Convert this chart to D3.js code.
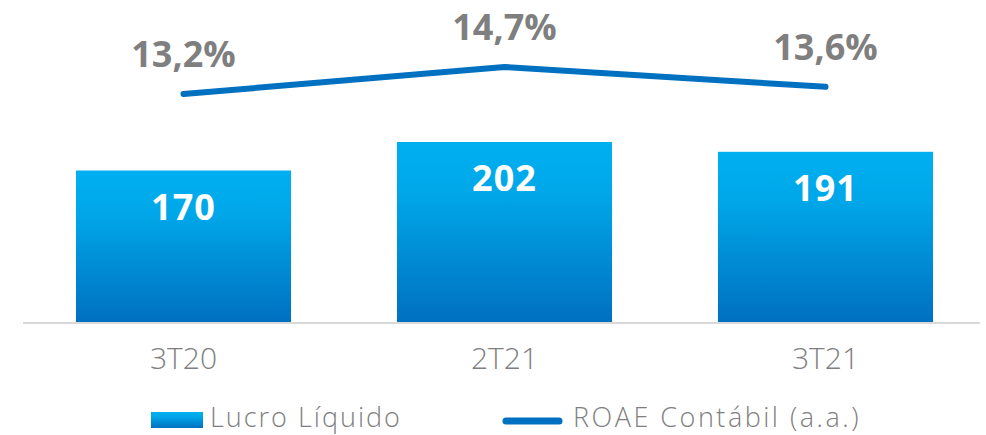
<!DOCTYPE html>
<html>
<head>
<meta charset="utf-8">
<script src="https://cdn.jsdelivr.net/npm/d3@7"></script>
<style>
  body { margin: 0; background: #fff; }
  text { font-family: "Open Sans", "DejaVu Sans", sans-serif; }
</style>
</head>
<body>
<svg id="chart"></svg>
<script>
// data
var periods = ["3T20", "2T21", "3T21"];
var lucro = [170, 202, 191];
var roae = [13.2, 14.7, 13.6];
var roaeLabels = ["13,2%", "14,7%", "13,6%"];

var width = 986, height = 435;
var svg = d3.select("#chart")
  .attr("width", width)
  .attr("height", height);

var defs = svg.append("defs");
var grad = defs.append("linearGradient")
  .attr("id", "barGrad")
  .attr("x1", 0).attr("y1", 0)
  .attr("x2", 0).attr("y2", 1);
grad.append("stop").attr("offset", "0%").attr("stop-color", "#00b0f0");
grad.append("stop").attr("offset", "30%").attr("stop-color", "#00a6e8");
grad.append("stop").attr("offset", "100%").attr("stop-color", "#0070c0");

var x = d3.scaleBand()
  .domain(periods)
  .range([23, 986])
  .paddingInner(0.33)
  .paddingOuter(0.165);

// bar scale
var y = d3.scaleLinear()
  .domain([0, 202])
  .range([322, 142]);

// line scale
var y2 = d3.scaleLinear()
  .domain([13.2, 14.7])
  .range([94, 67]);

// bars
svg.selectAll(".bar")
  .data(lucro)
  .enter().append("rect")
  .attr("class", "bar")
  .attr("x", function(d, i) { return x(periods[i]); })
  .attr("width", x.bandwidth())
  .attr("y", function(d) { return y(d); })
  .attr("height", function(d) { return y(0) - y(d); })
  .attr("fill", "url(#barGrad)");

// baseline
svg.append("line")
  .attr("x1", 23).attr("x2", 980)
  .attr("y1", y(0) + 1).attr("y2", y(0) + 1)
  .attr("stroke", "#d9d9d9")
  .attr("stroke-width", 2);

// bar labels
svg.selectAll(".barLabel")
  .data(lucro)
  .enter().append("text")
  .attr("class", "barLabel")
  .attr("x", function(d, i) { return x(periods[i]) + x.bandwidth() / 2; })
  .attr("y", function(d) { return y(d) + 49; })
  .attr("text-anchor", "middle")
  .attr("fill", "#fff")
  .attr("font-weight", "bold")
  .attr("font-size", "36px")
  .attr("letter-spacing", "1px")
  .text(function(d) { return d; });

// ROAE line
var line = d3.line()
  .x(function(d, i) { return x(periods[i]) + x.bandwidth() / 2; })
  .y(function(d) { return y2(d); });

svg.append("path")
  .datum(roae)
  .attr("d", line)
  .attr("fill", "none")
  .attr("stroke", "#0070c0")
  .attr("stroke-width", 6)
  .attr("stroke-linecap", "round")
  .attr("stroke-linejoin", "round");

svg.selectAll(".lineLabel")
  .data(roae)
  .enter().append("text")
  .attr("class", "lineLabel")
  .attr("x", function(d, i) { return x(periods[i]) + x.bandwidth() / 2; })
  .attr("y", function(d) { return y2(d) - 27; })
  .attr("text-anchor", "middle")
  .attr("fill", "#7f7f7f")
  .attr("font-weight", "bold")
  .attr("font-size", "36px")
  .text(function(d, i) { return roaeLabels[i]; });

// x axis labels
svg.selectAll(".xLabel")
  .data(periods)
  .enter().append("text")
  .attr("class", "xLabel")
  .attr("x", function(d) { return x(d) + x.bandwidth() / 2; })
  .attr("y", 369)
  .attr("text-anchor", "middle")
  .attr("fill", "#7f7f7f")
  .attr("font-weight", 300)
  .attr("font-size", "30px")
  .text(function(d) { return d; });

// legend
var legend = svg.append("g");
legend.append("rect")
  .attr("x", 151).attr("y", 412)
  .attr("width", 52).attr("height", 16)
  .attr("fill", "url(#barGrad)");
legend.append("text")
  .attr("x", 210).attr("y", 427)
  .attr("fill", "#7f7f7f")
  .attr("font-size", "27px")
  .attr("font-weight", 300)
  .attr("letter-spacing", "2px")
  .text("Lucro Líquido");
legend.append("line")
  .attr("x1", 506).attr("x2", 559)
  .attr("y1", 421).attr("y2", 421)
  .attr("stroke", "#0070c0")
  .attr("stroke-width", 7)
  .attr("stroke-linecap", "round");
legend.append("text")
  .attr("x", 573).attr("y", 427)
  .attr("fill", "#7f7f7f")
  .attr("font-size", "27px")
  .attr("font-weight", 300)
  .attr("letter-spacing", "2.5px")
  .text("ROAE Contábil (a.a.)");
</script>
</body>
</html>
